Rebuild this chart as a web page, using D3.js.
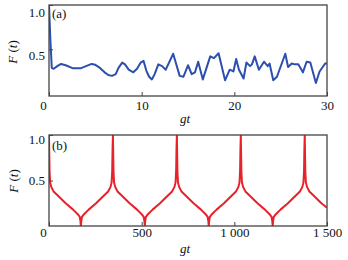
<!DOCTYPE html>
<html>
<head>
<meta charset="utf-8">
<script src="https://cdn.jsdelivr.net/npm/d3@7"></script>
<style>
  body { margin: 0; background: #fff; }
  svg text { font-family: "Liberation Serif", "Times New Roman", Times, serif; font-size: 13px; fill: #111; }
</style>
</head>
<body>
<script>
// (a) F(t) pour gt entre 0 et 30
var fidelityA = [
  [0, 1.0], [0.15, 0.6], [0.3, 0.29], [0.5, 0.28], [0.9, 0.31], [1.3, 0.335], [1.8, 0.32],
  [2.6, 0.285], [3.4, 0.285], [4.0, 0.31], [4.6, 0.335], [5.0, 0.325], [5.5, 0.29], [6.0, 0.24],
  [6.4, 0.21], [6.8, 0.20], [7.2, 0.22], [7.5, 0.29], [7.9, 0.35], [8.2, 0.33], [8.6, 0.27],
  [9.1, 0.24], [9.5, 0.28], [9.9, 0.35], [10.2, 0.37], [10.5, 0.26], [10.8, 0.19], [11.1, 0.16],
  [11.4, 0.22], [11.8, 0.33], [12.2, 0.31], [12.6, 0.27], [13.4, 0.45], [14.1, 0.20], [14.5, 0.19],
  [15.0, 0.32], [15.4, 0.22], [15.75, 0.24], [16.1, 0.36], [16.6, 0.16], [17.4, 0.42], [17.8, 0.40],
  [18.3, 0.455], [19.0, 0.15], [19.5, 0.27], [19.9, 0.25], [20.2, 0.39], [20.5, 0.27], [21.0, 0.17],
  [21.3, 0.35], [21.7, 0.31], [21.9, 0.33], [22.2, 0.42], [22.65, 0.27], [23.2, 0.36], [23.6, 0.31],
  [23.8, 0.34], [24.2, 0.15], [24.6, 0.19], [25.5, 0.45], [25.8, 0.30], [26.2, 0.34], [26.5, 0.33],
  [26.9, 0.33], [27.4, 0.24], [27.8, 0.36], [28.2, 0.35], [28.8, 0.12], [29.2, 0.25], [29.8, 0.34],
  [30, 0.34]
];

// (b) F(t) pour gt entre 0 et 1500
var fidelityB = [
  [0, 1.0], [1, 0.85], [3, 0.6], [6, 0.48], [12, 0.43], [25, 0.38], [50, 0.33], [90, 0.25],
  [130, 0.18], [155, 0.13], [166, 0.1], [170, 0.05], [172, 0.0],
  [174, 0.05], [178, 0.1], [189, 0.13], [214, 0.18], [254, 0.25], [294, 0.33], [319, 0.38],
  [332, 0.43], [338, 0.48], [341, 0.6], [343, 0.85], [345, 1.0],
  [346, 0.85], [348, 0.6], [351, 0.48], [357, 0.43], [370, 0.38], [395, 0.33], [435, 0.25],
  [475, 0.18], [500, 0.13], [511, 0.1], [515, 0.05], [517, 0.0],
  [519, 0.05], [523, 0.1], [534, 0.13], [559, 0.18], [599, 0.25], [639, 0.33], [664, 0.38],
  [677, 0.43], [683, 0.48], [686, 0.6], [688, 0.85], [690, 1.0],
  [691, 0.85], [693, 0.6], [696, 0.48], [702, 0.43], [715, 0.38], [740, 0.33], [780, 0.25],
  [820, 0.18], [845, 0.13], [856, 0.1], [860, 0.05], [862, 0.0],
  [864, 0.05], [868, 0.1], [879, 0.13], [904, 0.18], [944, 0.25], [984, 0.33], [1009, 0.38],
  [1022, 0.43], [1028, 0.48], [1031, 0.6], [1033, 0.85], [1035, 1.0],
  [1036, 0.85], [1038, 0.6], [1041, 0.48], [1047, 0.43], [1060, 0.38], [1085, 0.33], [1125, 0.25],
  [1165, 0.18], [1190, 0.13], [1201, 0.1], [1205, 0.05], [1207, 0.0],
  [1209, 0.05], [1213, 0.1], [1224, 0.13], [1249, 0.18], [1289, 0.25], [1329, 0.33], [1354, 0.38],
  [1367, 0.43], [1373, 0.48], [1376, 0.6], [1378, 0.85], [1380, 1.0],
  [1381, 0.85], [1383, 0.6], [1386, 0.48], [1392, 0.43], [1405, 0.38], [1430, 0.33], [1470, 0.25],
  [1500, 0.20]
];

var ticksXA = [0, 10, 20, 30];
var labelsXA = ["0", "10", "20", "30"];
var ticksXB = [0, 500, 1000, 1500];
var labelsXB = ["0", "500", "1 000", "1 500"];
var ticksY = [0.5, 1.0];
var labelsY = ["0.5", "1.0"];

(function(d3) {
  "use strict";

  var width = 348, height = 260;
  var left = 49, right = 327, plotH = 91;
  var serif = "Liberation Serif";

  var svg = d3.select("body").append("svg")
    .attr("width", width)
    .attr("height", height)
    .attr("font-family", serif)
    .attr("font-size", 13);

  function panel(cfg) {
    var x = d3.scaleLinear().domain(cfg.xDomain).range([left, right]);
    var y = d3.scaleLinear().domain(cfg.yDomain).range([cfg.top + plotH, cfg.top]);
    var g = svg.append("g");

    // plan de découpage
    g.append("clipPath").attr("id", cfg.id)
      .append("rect")
      .attr("x", left).attr("y", cfg.top)
      .attr("width", right - left).attr("height", plotH);

    var line = d3.line()
      .x(function(d) { return x(d[0]); })
      .y(function(d) { return y(d[1]); });

    g.append("path")
      .datum(cfg.data)
      .attr("clip-path", "url(#" + cfg.id + ")")
      .attr("fill", "none")
      .attr("stroke", cfg.color)
      .attr("stroke-width", 2)
      .attr("stroke-linejoin", "round")
      .attr("d", line);

    // axes (ticks vers l'intérieur)
    var xAxis = d3.axisBottom(x).tickValues(cfg.xTicks).tickSizeInner(-4).tickSizeOuter(0)
      .tickFormat(function(d, i) { return cfg.xLabels[i]; });
    var gx = g.append("g")
      .attr("transform", "translate(0," + (cfg.top + plotH) + ")")
      .call(xAxis)
      .attr("font-family", serif)
      .attr("font-size", 13);
    gx.select(".domain").remove();
    gx.selectAll("line").attr("stroke", "#444");
    gx.selectAll("text")
      .attr("y", cfg.xLabelDy)
      .attr("dy", "0.35em")
      .attr("fill", "#111")
      .attr("x", function(d) { return d === 0 ? -6 : 0; });

    var yAxis = d3.axisLeft(y).tickValues(ticksY).tickSizeInner(-4).tickSizeOuter(0)
      .tickFormat(function(d, i) { return labelsY[i]; });
    var gy = g.append("g")
      .attr("transform", "translate(" + left + ",0)")
      .call(yAxis)
      .attr("font-family", serif)
      .attr("font-size", 13);
    gy.select(".domain").remove();
    gy.selectAll("line").attr("stroke", "#444");
    gy.selectAll("text")
      .attr("x", -4)
      .attr("fill", "#111")
      .attr("y", function(d) { return d === 1 ? cfg.topLabelDy : cfg.midLabelDy; });

    // cadre
    g.append("rect")
      .attr("x", left).attr("y", cfg.top)
      .attr("width", right - left).attr("height", plotH)
      .attr("fill", "none")
      .attr("stroke", "#444")
      .attr("stroke-width", 1.3);

    g.append("text")
      .attr("x", 52).attr("y", cfg.tagY).attr("dy", "0.35em")
      .attr("fill", "#111")
      .text(cfg.tag);

    var fy = g.append("text")
      .attr("transform", "translate(" + cfg.fX + "," + cfg.fY + ") rotate(-90)")
      .attr("text-anchor", "middle").attr("dy", "0.35em")
      .attr("fill", "#111");
    fy.append("tspan").attr("font-style", "italic").text("F");
    fy.append("tspan").text(" (");
    fy.append("tspan").attr("font-style", "italic").text("t");
    fy.append("tspan").text(")");

    g.append("text")
      .attr("x", 185).attr("y", cfg.gtY).attr("dy", "0.35em")
      .attr("text-anchor", "middle")
      .attr("font-style", "italic")
      .attr("fill", "#111")
      .text("gt");
  }

  panel({
    id: "clipA", top: 5, data: fidelityA, color: "#2c4fae",
    xDomain: [0, 30], yDomain: [-0.027, 1],
    xTicks: ticksXA, xLabels: labelsXA,
    xLabelDy: 9, topLabelDy: 7, midLabelDy: 6,
    tag: "(a)", tagY: 13, fX: 12, fY: 52, gtY: 118
  });

  panel({
    id: "clipB", top: 135, data: fidelityB, color: "#e8222a",
    xDomain: [0, 1500], yDomain: [0, 1],
    xTicks: ticksXB, xLabels: labelsXB,
    xLabelDy: 6, topLabelDy: 4, midLabelDy: 0,
    tag: "(b)", tagY: 145, fX: 13, fY: 181, gtY: 248
  });
})(d3);
</script>
</body>
</html>
